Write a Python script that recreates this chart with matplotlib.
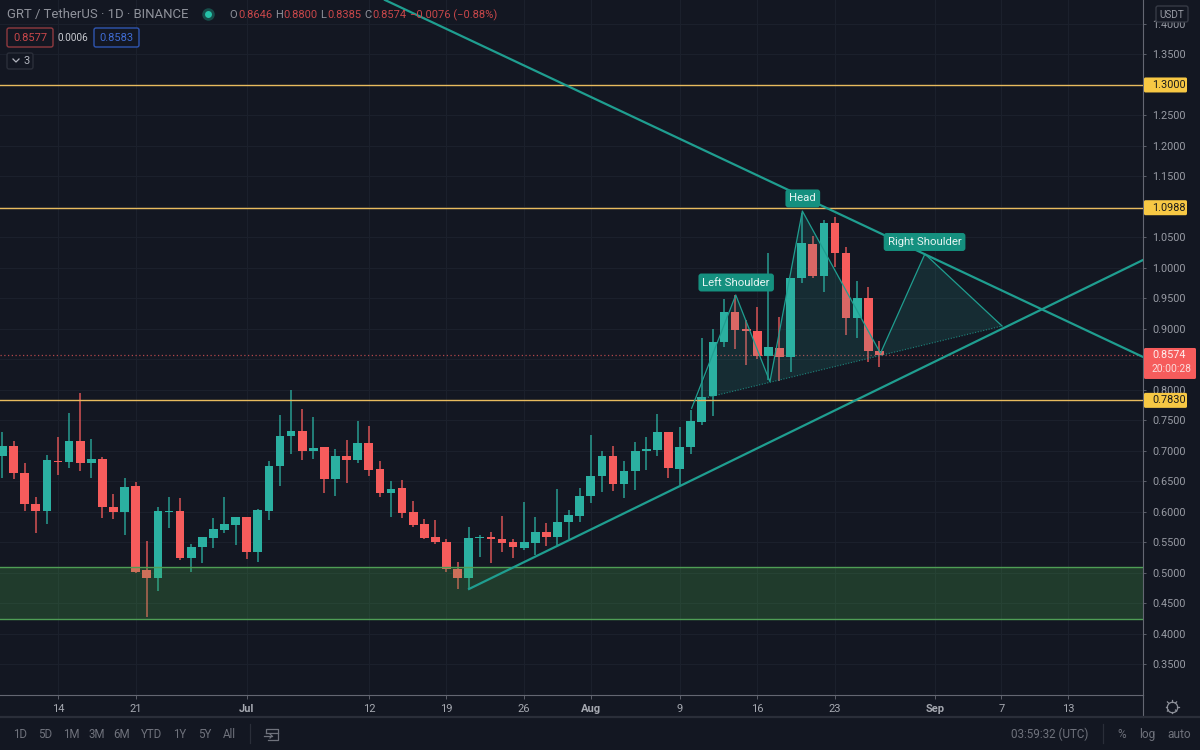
import numpy as np
import matplotlib
matplotlib.use("Agg")
import matplotlib.pyplot as plt
from matplotlib.patches import Rectangle, FancyBboxPatch, Polygon

plt.rcParams['font.family'] = ['Roboto', 'DejaVu Sans']

# days counted from 14 June, one candle per day
days = np.arange(-5, 75)
opens = [.6919, .7088, .6635, .6133, .6024, .6843, .6821, .7165, .6799, .6865,
         .6089, .5996, .6428, .5046, .4926, .6002, .6024, .5248, .5423, .5576,
         .5702, .5789, .5914, .5352, .6013, .6750, .7247, .7329, .7006, .7072,
         .6542, .6919, .6854, .7127, .6701, .6319, .6390, .6002, .5805, .5587,
         .5516, .5068, .4910, .5571, .5592, .5565, .5500, .5412, .5489, .5669,
         .5592, .5838, .5942, .6254, .6592, .6920, .6451, .6664, .7002, .7018,
         .7319, .6707, .7062, .7482, .7894, .8784, .9286, .8997, .8970, .8549,
         .8691, .8538, .9843, 1.0395, .9876, 1.0733, 1.0242, .9177, .9516, .8646]
highs = [.7318, .7165, .6810, .6253, .6935, .7236, .7618, .7946, .7203, .6908,
         .6297, .6564, .6493, .5527, .6089, .6253, .6231, .5478, .5587, .5898,
         .6242, .5914, .5914, .6046, .6837, .7585, .8000, .7684, .7563, .7072,
         .7028, .7181, .7498, .7416, .6837, .6510, .6526, .6182, .5893, .5871,
         .5565, .5188, .5762, .5625, .5680, .5936, .5565, .6160, .5925, .5827,
         .6379, .6035, .6388, .7270, .7007, .7089, .6844, .7155, .7237, .7603,
         .7319, .7401, .7674, .8849, .8997, .9488, .9559, .9150, .9368, 1.0253,
         .9204, .9838, 1.0897, 1.0531, 1.0788, 1.0831, 1.0351, .9789, .9696, .8800]
lows = [.6553, .6537, .6024, .5663, .5805, .6602, .6728, .6679, .6564, .5904,
        .5893, .5625, .4992, .4276, .4713, .5745, .5216, .5019, .5161, .5407,
        .5652, .5467, .5227, .5183, .5871, .6428, .6952, .6854, .6865, .6308,
        .6264, .6471, .6810, .6597, .6253, .5914, .5898, .5751, .5554, .5478,
        .5014, .4735, .4735, .5270, .5161, .5341, .5243, .5379, .5287, .5445,
        .5461, .5554, .5836, .6145, .6320, .6352, .6227, .6363, .6691, .6926,
        .6554, .6445, .6953, .7433, .7576, .8702, .8669, .8413, .8506, .8167,
        .8140, .8287, .9750, .9832, .9614, 1.0023, .8904, .8849, .8456, .8385]
closes = [.7088, .6635, .6127, .6013, .6848, .6821, .7165, .6810, .6865, .6089,
          .5996, .6417, .5024, .4926, .6018, .6018, .5243, .5434, .5587, .5718,
          .5800, .5914, .5352, .6035, .6755, .7252, .7329, .7006, .7056, .6537,
          .6919, .6854, .7127, .6690, .6319, .6384, .5991, .5789, .5576, .5505,
          .5068, .4910, .5571, .5592, .5554, .5489, .5418, .5500, .5674, .5598,
          .5844, .5947, .6258, .6598, .6926, .6456, .6669, .7007, .7029, .7319,
          .6713, .7073, .7499, .7892, .8789, .9281, .8991, .8964, .8560, .8697,
          .8538, .9838, 1.0406, .9871, 1.0733, 1.0247, .9188, .9516, .8642, .8574]

price_ticks = [.35, .40, .45, .50, .55, .60, .65, .70, .75, .80, .85, .90, .95, 1.0,
               1.05, 1.10, 1.15, 1.20, 1.25, 1.30, 1.35, 1.40]
# these two sit fully behind the tags in the price scale
hidden_ticks = [.85, 1.30]
time_ticks = [0, 7, 17, 28, 35, 42, 48, 56, 63, 70, 79, 85, 91]
time_labels = ["14", "21", "Jul", "12", "19", "26", "Aug", "9", "16", "23", "Sep", "7", "13"]

gold_levels = [1.3000, 1.0988, 0.7830]
zone_top, zone_bottom = 0.5098, 0.4246
last_price = 0.8574

down_days, down_prices = [29.46, 97.75], [1.4393, 0.8541]
up_days, up_prices = [37.03, 97.75], [0.4738, 1.0131]
hs_days = [57.09, 61.06, 64.14, 67.06, 74.10, 78.10, 85.05]
hs_prices = [0.7700, 0.9557, 0.8136, 1.0934, 0.8602, 1.0230, 0.9049]
base_days, base_prices = [57.57, 85.05], [0.7836, 0.9049]

BG = "#131722"
GRID = "#1b202c"
UP = "#2bb0a1"
DOWN = "#f65c5c"
TEAL = "#1f9e90"
GOLD_LINE = "#e8bb5e"
GOLD_TAG = "#f7c844"
AXIS_TEXT = "#989ba4"
DIM_TEXT = "#6f727c"

fig = plt.figure(figsize=(12, 7.5), dpi=100, facecolor=BG)
ax = fig.add_axes([0, 55 / 750, 1143 / 1200, 695 / 750], facecolor=BG)
ax.set_xlim(-5.225, 97.75)
ax.set_ylim(0.3, 1.4393)

# candles
opens, highs, lows, closes = map(np.array, (opens, highs, lows, closes))
colors = [UP if c >= o else DOWN for o, c in zip(opens, closes)]
ax.vlines(days, lows, highs, colors=colors, lw=1.2, alpha=0.8, zorder=2)
ax.bar(days, np.abs(closes - opens), bottom=np.minimum(opens, closes), width=0.78,
       color=colors, zorder=2.5)

# levels
for level in gold_levels:
    ax.axhline(level, color=GOLD_LINE, lw=1.0, zorder=4)
ax.axhline(last_price, color=DOWN, lw=0.9, ls=(0, (1, 2)), alpha=0.7, zorder=1.5)
ax.axhspan(zone_bottom, zone_top, facecolor="#4caf50", alpha=0.24, lw=0, zorder=3)
ax.axhline(zone_top, color="#4f9e55", lw=1.0, zorder=3.5)
ax.axhline(zone_bottom, color="#4f9e55", lw=1.0, zorder=3.5)

# trend lines
ax.plot(down_days, down_prices, color=TEAL, lw=1.6, zorder=5)
ax.plot(up_days, up_prices, color=TEAL, lw=1.6, zorder=5)

# head and shoulders drawing
fill_pts = [(base_days[0], base_prices[0])] + list(zip(hs_days[1:], hs_prices[1:]))
ax.add_patch(Polygon(fill_pts, closed=True, facecolor=UP, alpha=0.14, lw=0, zorder=3))
ax.plot(hs_days, hs_prices, color=TEAL, lw=0.9, zorder=5)
ax.plot(base_days, base_prices, color=TEAL, lw=0.8, ls=(0, (1, 1.5)), alpha=0.8, zorder=5)

for label, d, p in [("Left Shoulder", 61.1, 0.9762), ("Head", 67.1, 1.114), ("Right Shoulder", 78.07, 1.0426)]:
    ax.text(d, p, label, color="#e6f4f2", fontsize=8.2, ha="center", va="center", zorder=6,
            bbox=dict(boxstyle="round,pad=0.35,rounding_size=0.25", fc="#15907f", ec="none"))

# axes
ax.set_yticks(price_ticks)
ax.set_yticklabels(["" if p in hidden_ticks else f"{p:.4f}" for p in price_ticks])
ax.set_xticks(time_ticks)
ax.set_xticklabels(time_labels)
ax.yaxis.tick_right()
ax.tick_params(axis="y", length=2.2, width=0.7, color="#5d606b", pad=4.3, labelcolor=AXIS_TEXT, labelsize=7.8)
ax.tick_params(axis="x", length=3, width=0.7, color="#5d606b", pad=3.5, labelcolor="#a6a9b1", labelsize=8)
for tick in ax.get_xticklabels():
    if tick.get_text() in ("Jul", "Aug", "Sep"):
        tick.set_fontweight("bold")
ax.grid(True, color=GRID, lw=0.8, zorder=0)
ax.set_axisbelow(True)
for side in ("top", "left"):
    ax.spines[side].set_visible(False)
for side in ("bottom", "right"):
    ax.spines[side].set_color("#646772")
    ax.spines[side].set_linewidth(0.8)

# interface around the chart, in pixel coordinates
ui = fig.add_axes([0, 0, 1, 1], facecolor="none")
ui.set_xlim(0, 1200)
ui.set_ylim(750, 0)
ui.axis("off")


def price_y(p):
    return 750 - ax.transData.transform((0, p))[1]


def tag(p, text, fc, fg, width=44, height=15):
    ui.add_patch(FancyBboxPatch((1144, price_y(p) - height / 2), width - 1, height,
                                boxstyle="round,pad=0,rounding_size=1.5", fc=fc, ec="none", zorder=5))
    ui.text(1152, price_y(p), text, color=fg, fontsize=7.8, va="center", zorder=6)


for level in gold_levels:
    tag(level, f"{level:.4f}", GOLD_TAG, "#1b1b1b")

y = price_y(last_price)
ui.add_patch(FancyBboxPatch((1144, y - 7), 52, 31, boxstyle="round,pad=0,rounding_size=1.5",
                            fc=DOWN, ec="none", zorder=5))
ui.text(1152, y, "0.8574", color="#fdeeee", fontsize=7.8, va="center", zorder=6)
ui.text(1152, y + 14, "20:00:28", color="#fbdcdc", fontsize=7.4, va="center", zorder=6)

# header
ui.text(7, 14.5, "GRT / TetherUS · 1D · BINANCE", color="#8f929b", fontsize=9.45, va="center")
ui.plot([208], [14], "o", ms=9, color="#174d4a", mew=0)
ui.plot([208], [14], "o", ms=5, color="#26c2a8", mew=0)
for x, txt, col in [(229, "O", "#8f929b"), (238, "0.8646", "#c8474a"), (275, "H", "#8f929b"),
                    (283, "0.8800", "#c8474a"), (320, "L", "#8f929b"), (327, "0.8385", "#c8474a"),
                    (364, "C", "#8f929b"), (372, "0.8574", "#c8474a"),
                    (410, "−0.0076 (−0.88%)", "#c8474a")]:
    ui.text(x, 15, txt, color=col, fontsize=8, va="center")

ui.add_patch(FancyBboxPatch((7, 28), 46, 19, boxstyle="round,pad=0,rounding_size=2", fc=BG, ec="#8f3a3f", lw=1))
ui.text(30, 38, "0.8577", color="#c8474a", fontsize=8, ha="center", va="center")
ui.text(72.5, 38, "0.0006", color="#c9cbd1", fontsize=7.2, ha="center", va="center")
ui.add_patch(FancyBboxPatch((94, 28), 45, 19, boxstyle="round,pad=0,rounding_size=2", fc=BG, ec="#2f55b0", lw=1))
ui.text(116.5, 38, "0.8583", color="#3f6bd1", fontsize=8, ha="center", va="center")
ui.add_patch(FancyBboxPatch((7, 53), 26, 16, boxstyle="round,pad=0,rounding_size=2", fc=BG, ec="#2a2e39", lw=1))
ui.plot([13, 16, 19], [59, 62, 59], color="#b2b5be", lw=0.9)
ui.text(26.5, 61, "3", color="#b2b5be", fontsize=8, ha="center", va="center")

# currency button, top right
ui.add_patch(FancyBboxPatch((1156, 6), 32, 16, boxstyle="round,pad=0,rounding_size=2", fc=BG, ec="#363a45", lw=1, zorder=5))
ui.text(1172, 14.5, "USDT", color="#989ba4", fontsize=7.2, ha="center", va="center", zorder=6)

# frame lines and bottom bar
ui.add_patch(Rectangle((0, 716), 1200, 34, fc=BG, ec="none", zorder=1))
ui.plot([1143.3, 1143.3], [695, 717], color="#646772", lw=0.8)
ui.plot([0, 1200], [717, 717], color="#2a2e39", lw=1.6)
ui.plot([250, 250], [724, 743], color="#2a2e39", lw=0.9)
ui.plot([1103, 1103], [724, 743], color="#2a2e39", lw=0.9)

for x, txt in zip([20, 45, 71, 97, 122, 152, 180, 205, 229],
                  ["1D", "5D", "1M", "3M", "6M", "YTD", "1Y", "5Y", "All"]):
    ui.text(x, 734.5, txt, color=DIM_TEXT, fontsize=8.3, ha="center", va="center")
ui.text(1050, 734.5, "03:59:32 (UTC)", color=DIM_TEXT, fontsize=8.4, ha="center", va="center")
for x, txt in [(1122, "%"), (1147, "log"), (1179, "auto")]:
    ui.text(x, 734.5, txt, color=DIM_TEXT, fontsize=8.6, ha="center", va="center")

# calendar icon
ui.plot([266, 266, 278, 278, 268], [733, 729, 729, 740, 740], color=DIM_TEXT, lw=0.9)
ui.plot([266, 278], [732.5, 732.5], color=DIM_TEXT, lw=0.9)
ui.plot([264, 272], [736, 736], color=DIM_TEXT, lw=0.9)
ui.plot([270, 272, 270], [734, 736, 738], color=DIM_TEXT, lw=0.9)

# settings icon
ui.plot([1172], [706.5], "o", ms=7.5, mfc="none", mec="#8f929b", mew=0.9)
for a in np.arange(8) * np.pi / 4:
    ui.plot([1172 + 5 * np.cos(a), 1172 + 6.5 * np.cos(a)],
            [706.5 + 5 * np.sin(a), 706.5 + 6.5 * np.sin(a)], color="#8f929b", lw=0.9)

ui.set_xlim(0, 1200)
ui.set_ylim(750, 0)
fig.savefig("out.png", dpi=100, facecolor=BG)
